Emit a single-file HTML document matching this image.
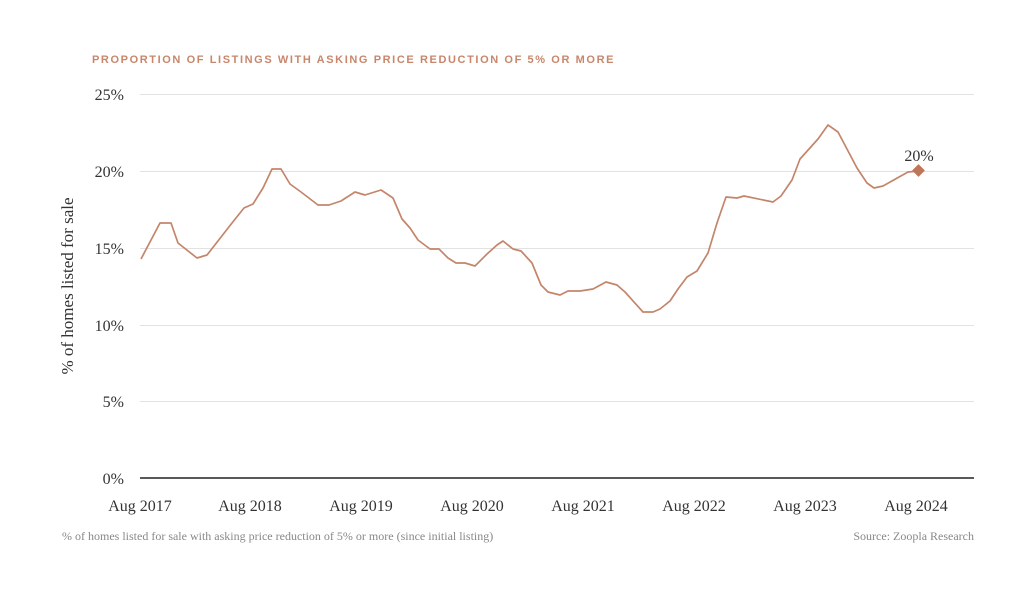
<!DOCTYPE html><html><head><style>body{margin:0;background:#fff;width:1024px;height:595px;overflow:hidden}</style></head><body>
<svg width="1024" height="595" xmlns="http://www.w3.org/2000/svg" font-family="Liberation Serif, serif">
<text x="92" y="63" font-family="Liberation Sans, sans-serif" font-size="11" font-weight="bold" fill="#c9866a" letter-spacing="1.6">PROPORTION OF LISTINGS WITH ASKING PRICE REDUCTION OF 5% OR MORE</text>
<g stroke="#e2e2e2" stroke-width="1">
<line x1="140" x2="974" y1="94.5" y2="94.5"/><line x1="140" x2="974" y1="171.5" y2="171.5"/><line x1="140" x2="974" y1="248.5" y2="248.5"/><line x1="140" x2="974" y1="325.5" y2="325.5"/><line x1="140" x2="974" y1="401.5" y2="401.5"/></g>
<line x1="140" x2="974" y1="478" y2="478" stroke="#222" stroke-width="1.5"/>
<g font-size="16" fill="#333" text-anchor="end">
<text x="124" y="100">25%</text><text x="124" y="177">20%</text><text x="124" y="254">15%</text><text x="124" y="331">10%</text><text x="124" y="407">5%</text><text x="124" y="484">0%</text></g>
<g font-size="16" fill="#333" text-anchor="middle">
<text x="140" y="511">Aug 2017</text><text x="250" y="511">Aug 2018</text><text x="361" y="511">Aug 2019</text><text x="472" y="511">Aug 2020</text><text x="583" y="511">Aug 2021</text><text x="694" y="511">Aug 2022</text><text x="805" y="511">Aug 2023</text><text x="916" y="511">Aug 2024</text></g>
<text transform="translate(73,286) rotate(-90)" font-size="17" fill="#333" text-anchor="middle">% of homes listed for sale</text>
<polyline fill="none" stroke="#c4856a" stroke-width="1.7" stroke-linejoin="round" points="141,259 160,223 171,223 178,243 197,258 207,255 232,223 244,208 253,204 263,188 272,169 281,169 290,184 301,192 318,205 329,205 341,201 355,192 365,195 381,190 393,198 402,219 410,228 418,240 430,249 439,249 448,258 456,263 465,263 475,266 487,254 497,245 503,241 513,249 521,251 532,263 541,285 548,292 560,295 568,291 580,291 593,289 606,282 617,285 625,292 643,312 653,312 660,309 670,301 678,289 687,277 697,271 708,253 717,223 726,197 737,198 744,196 773,202 781,196 792,180 800,159 818,139 828,125 838,132 857,168 867,183 874,188 883,186 908,172 919,171"/>
<rect x="914" y="166" width="9" height="9" fill="#bf7558" transform="rotate(45 918.5 170.5)"/>
<text x="919" y="161" font-size="16" fill="#333" text-anchor="middle">20%</text>
<text x="62" y="540" font-size="12" fill="#888">% of homes listed for sale with asking price reduction of 5% or more (since initial listing)</text>
<text x="974" y="540" font-size="12" fill="#888" text-anchor="end">Source: Zoopla Research</text>
</svg></body></html>
